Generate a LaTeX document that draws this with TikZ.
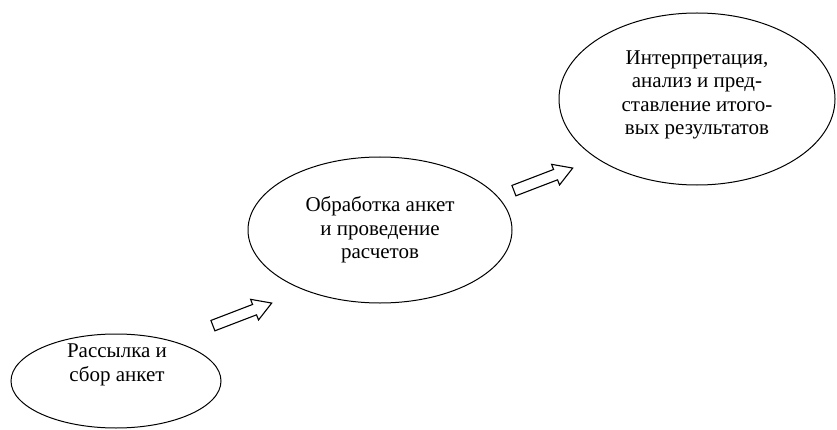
\documentclass[tikz,border=0pt]{standalone}
\usepackage{fontspec}
\setmainfont{Liberation Serif}
\usetikzlibrary{shapes.geometric,shapes.arrows}
\begin{document}
\begin{tikzpicture}[x=1pt,y=1pt,inner sep=0pt]
        \tikzset{
            stage/.style={draw=black, line width=1pt, ellipse},
            stagetext/.style={align=center, font=\fontsize{21}{23.5}\selectfont},
            blockarrow/.style={draw=black, line width=1.1pt, single arrow, minimum height=63pt,
                minimum width=21pt, inner xsep=0pt, inner ysep=5pt,
                single arrow head extend=5.5pt, single arrow tip angle=62, rotate=21}
        }
        \useasboundingbox (0,0) rectangle (837,429);

        \node [stage, minimum width=210pt, minimum height=94pt] (rassylka) at (116,48) {};
        \node [stage, minimum width=264pt, minimum height=146pt] (obrabotka) at (380,199) {};
        \node [stage, minimum width=276pt, minimum height=172pt] (itogi) at (697,330) {};

        \node [stagetext] (rassylkatext) at (117,64) {Рассылка и\\сбор анкет};
        \node [stagetext] (obrabotkatext) at (380,199) {Обработка анкет\\и проведение\\расчетов};
        \node [stagetext] (itogitext) at (697,334) {Интерпретация,\\анализ и пред-\\ставление итого-\\вых результатов};

        \node [blockarrow] (strelka1) at (238,113) {};
        \node [blockarrow] (strelka2) at (539,248) {};

\end{tikzpicture}
\end{document}
